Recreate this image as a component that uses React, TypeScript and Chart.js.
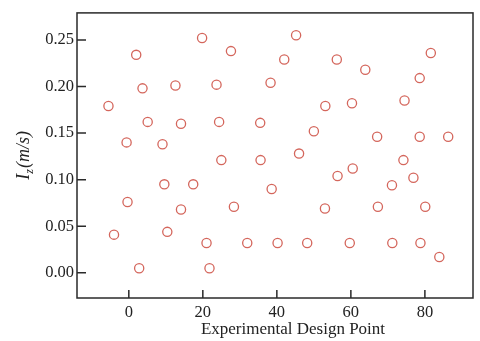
import React, { useEffect, useRef } from "react";
import { Chart, registerables } from "chart.js";

Chart.register(...registerables);

const xValues = [
  -5.5, -0.6, -0.35, -4.0, 2.8, 2.0, 3.7, 5.1, 9.1, 9.6, 10.4, 12.6, 14.1, 14.1,
  17.4, 19.8, 21.0, 21.8, 23.7, 24.4, 25.0, 27.6, 28.4, 32.0, 35.5, 35.6, 38.3,
  38.6, 40.2, 42.0, 45.2, 46.0, 48.2, 50.0, 53.1, 53.0, 56.2, 56.4, 59.7, 60.3,
  60.5, 63.9, 67.1, 67.3, 71.1, 71.2, 74.2, 74.5, 76.9, 78.6, 78.6, 78.8, 80.1,
  81.6, 83.9, 86.3,
];
const yValues = [
  0.179, 0.140, 0.076, 0.041, 0.005, 0.234, 0.198, 0.162, 0.138, 0.095, 0.044,
  0.201, 0.160, 0.068, 0.095, 0.252, 0.032, 0.005, 0.202, 0.162, 0.121, 0.238,
  0.071, 0.032, 0.161, 0.121, 0.204, 0.090, 0.032, 0.229, 0.255, 0.128, 0.032,
  0.152, 0.179, 0.069, 0.229, 0.104, 0.032, 0.182, 0.112, 0.218, 0.146, 0.071,
  0.094, 0.032, 0.121, 0.185, 0.102, 0.209, 0.146, 0.032, 0.071, 0.236, 0.017,
  0.146,
];

const xTitle = "Experimental Design Point";
const yTitleMain = "I";
const yTitleSub = "z";
const yTitleRest = "(m/s)";

const SERIF = '"Liberation Serif", "DejaVu Serif", serif';
const TEXT = "#222222";

const framePlugin = {
  id: "frame",
  afterDraw(chart: any) {
    const { ctx, chartArea, scales } = chart;
    const { left, top, right, bottom } = chartArea;
    const xs = scales.x;
    const ys = scales.y;
    ctx.save();
    ctx.strokeStyle = "#2a2a2a";
    ctx.lineWidth = 1.5;
    ctx.strokeRect(left, top, right - left, bottom - top);
    ctx.beginPath();
    xs.ticks.forEach((t: any) => {
      const px = xs.getPixelForValue(t.value);
      ctx.moveTo(px, bottom);
      ctx.lineTo(px, bottom - 8);
    });
    ys.ticks.forEach((t: any) => {
      const py = ys.getPixelForValue(t.value);
      ctx.moveTo(left, py);
      ctx.lineTo(left + 9, py);
    });
    ctx.stroke();

    // x title
    ctx.fillStyle = TEXT;
    ctx.font = `17px ${SERIF}`;
    ctx.textAlign = "center";
    ctx.textBaseline = "alphabetic";
    ctx.fillText(xTitle, 293, 334);

    // y title with subscript
    const cy = (top + bottom) / 2;
    ctx.translate(29, cy);
    ctx.rotate(-Math.PI / 2);
    const fMain = `italic 18px ${SERIF}`;
    const fSub = `italic 12px ${SERIF}`;
    ctx.font = fMain;
    const wI = ctx.measureText(yTitleMain).width;
    const wR = ctx.measureText(yTitleRest).width;
    ctx.font = fSub;
    const wZ = ctx.measureText(yTitleSub).width;
    const total = wI + wZ + wR + 1;
    let cx = -total / 2;
    ctx.textAlign = "left";
    ctx.font = fMain;
    ctx.fillText(yTitleMain, cx, 0);
    cx += wI;
    ctx.font = fSub;
    ctx.fillText(yTitleSub, cx, 4);
    cx += wZ + 1;
    ctx.font = fMain;
    ctx.fillText(yTitleRest, cx, 0);
    ctx.restore();
  },
};

export default function App() {
  const ref = useRef<HTMLCanvasElement | null>(null);
  useEffect(() => {
    if (!ref.current) return;
    const chart = new Chart(ref.current, {
      type: "scatter",
      data: {
        datasets: [
          {
            data: xValues.map((x, i) => ({ x, y: yValues[i] })),
            pointStyle: "circle",
            pointRadius: 4.6,
            pointBorderWidth: 1.3,
            borderColor: "#d4665c",
            backgroundColor: "rgba(255,255,255,0)",
            pointHoverRadius: 4.6,
          },
        ],
      },
      options: {
        responsive: false,
        devicePixelRatio: 1,
        animation: false,
        layout: { padding: { top: 9, right: 7, left: 0, bottom: 0 } },
        plugins: { legend: { display: false }, tooltip: { enabled: false } },
        scales: {
          x: {
            type: "linear",
            min: -14,
            max: 93,
            grid: { display: false, drawTicks: false },
            border: { display: false },
            ticks: {
              stepSize: 20,
              includeBounds: false,
              padding: 5,
              color: TEXT,
              font: { family: SERIF, size: 16.5 },
              maxRotation: 0,
            },
            afterFit(scale: any) {
              scale.height = 43;
            },
          },
          y: {
            type: "linear",
            min: -0.027,
            max: 0.279,
            grid: { display: false, drawTicks: false },
            border: { display: false },
            ticks: {
              stepSize: 0.05,
              includeBounds: false,
              padding: 3,
              color: TEXT,
              font: { family: SERIF, size: 16.5 },
              callback: (v: any) => Number(v).toFixed(2),
            },
            afterFit(scale: any) {
              scale.width = 77;
            },
          },
        },
      },
      plugins: [framePlugin],
    });
    return () => chart.destroy();
  }, []);
  return (
    <div style={{ position: "absolute", left: 0, top: 0, width: 480, height: 341, background: "#fff" }}>
      <canvas ref={ref} width={480} height={341} />
    </div>
  );
}
